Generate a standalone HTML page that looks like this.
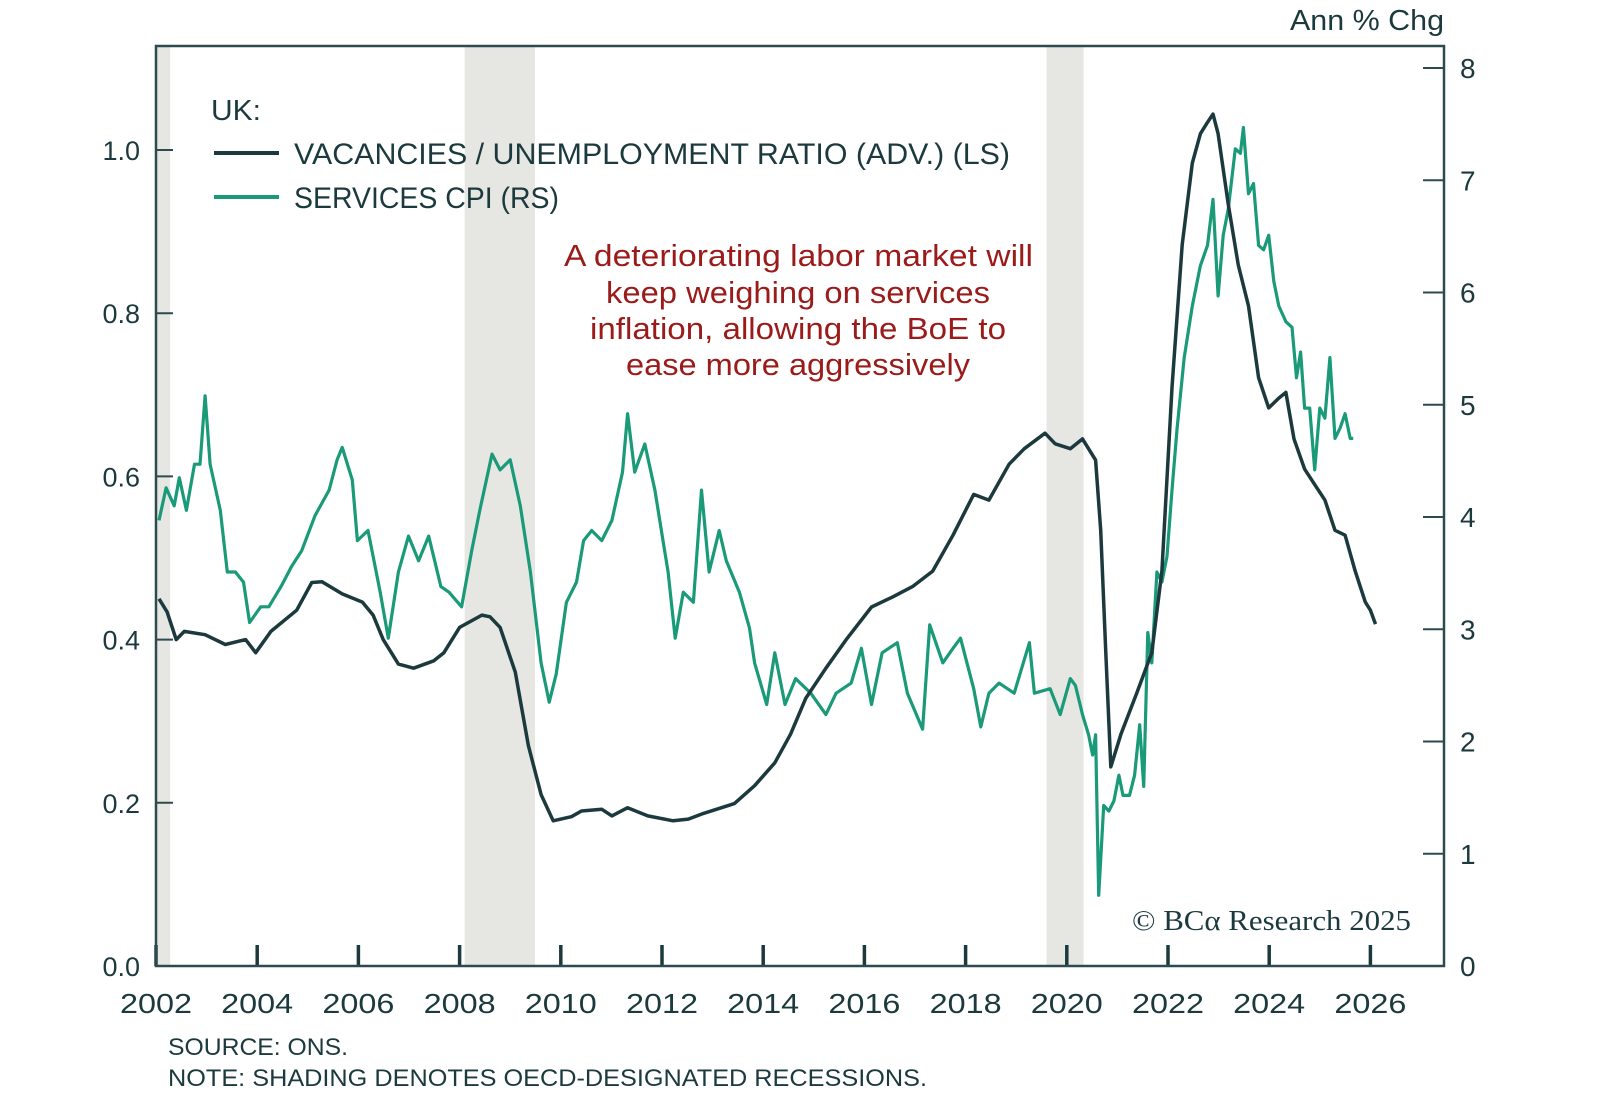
<!DOCTYPE html>
<html><head><meta charset="utf-8"><style>
html,body{margin:0;padding:0;background:#fff;}
svg{display:block;font-family:"Liberation Sans",sans-serif;}
</style></head><body>
<svg id="chart" width="1600" height="1107" viewBox="0 0 1600 1107" xmlns="http://www.w3.org/2000/svg">
<g id="shade"></g>
<g id="ticks"></g>
<rect x="156" y="46" width="1288" height="920" fill="none" stroke="#2d4a4f" stroke-width="2.5"/>
<g id="lines"></g>
<text x="211" y="120" font-size="29" fill="#1c3a3e" textLength="50" lengthAdjust="spacingAndGlyphs">UK:</text>
<line x1="214" y1="153" x2="279" y2="153" stroke="#1c3a3e" stroke-width="4"/>
<text x="294" y="164" font-size="30" fill="#1c3a3e" textLength="716" lengthAdjust="spacingAndGlyphs">VACANCIES / UNEMPLOYMENT RATIO (ADV.) (LS)</text>
<line x1="214" y1="197" x2="279" y2="197" stroke="#1a9a78" stroke-width="4"/>
<text x="294" y="208" font-size="30" fill="#1c3a3e" textLength="265" lengthAdjust="spacingAndGlyphs">SERVICES CPI (RS)</text>
<g font-size="31" fill="#9b1b1b">
<text x="564" y="266" textLength="469" lengthAdjust="spacingAndGlyphs">A deteriorating labor market will</text>
<text x="606" y="303" textLength="384" lengthAdjust="spacingAndGlyphs">keep weighing on services</text>
<text x="590" y="339" textLength="416" lengthAdjust="spacingAndGlyphs">inflation, allowing the BoE to</text>
<text x="626" y="375" textLength="344" lengthAdjust="spacingAndGlyphs">ease more aggressively</text>
</g>
<text x="1290" y="30" font-size="29" fill="#1c3a3e" textLength="154" lengthAdjust="spacingAndGlyphs">Ann % Chg</text>
<text x="1132" y="930" font-size="28" fill="#1c3a3e" font-family="Liberation Serif,serif" textLength="279" lengthAdjust="spacingAndGlyphs">© BCα Research 2025</text>
<text x="168" y="1055" font-size="24" fill="#1c3a3e" textLength="180" lengthAdjust="spacingAndGlyphs">SOURCE: ONS.</text>
<text x="168" y="1086" font-size="24" fill="#1c3a3e" textLength="759" lengthAdjust="spacingAndGlyphs">NOTE: SHADING DENOTES OECD-DESIGNATED RECESSIONS.</text>
</svg>
<script>
const vuYears=[2002.06,2002.22,2002.40,2002.56,2002.97,2003.37,2003.77,2003.97,2004.27,2004.78,2005.08,2005.28,2005.68,2006.08,2006.29,2006.49,2006.79,2007.09,2007.49,2007.69,2008.00,2008.44,2008.60,2008.80,2009.10,2009.36,2009.61,2009.85,2010.21,2010.41,2010.81,2011.01,2011.32,2011.72,2012.22,2012.52,2012.82,2013.43,2013.83,2014.23,2014.54,2014.84,2015.24,2015.64,2016.14,2016.55,2016.95,2017.35,2017.75,2018.16,2018.46,2018.86,2019.16,2019.57,2019.77,2020.07,2020.31,2020.57,2020.67,2020.77,2020.87,2021.07,2021.38,2021.68,2021.88,2022.08,2022.28,2022.48,2022.64,2022.78,2022.89,2022.99,2023.19,2023.39,2023.59,2023.79,2023.99,2024.19,2024.33,2024.49,2024.70,2024.90,2025.10,2025.30,2025.50,2025.70,2025.90,2026.00,2026.10];
const vuValues=[0.45,0.434,0.40,0.41,0.406,0.394,0.40,0.384,0.41,0.436,0.47,0.471,0.456,0.446,0.43,0.40,0.37,0.365,0.374,0.384,0.415,0.43,0.428,0.415,0.36,0.27,0.21,0.178,0.183,0.19,0.192,0.184,0.194,0.184,0.178,0.18,0.187,0.199,0.221,0.249,0.284,0.328,0.365,0.40,0.44,0.452,0.465,0.484,0.528,0.578,0.571,0.615,0.634,0.653,0.64,0.634,0.646,0.62,0.534,0.384,0.244,0.284,0.334,0.384,0.484,0.709,0.884,0.984,1.02,1.034,1.044,1.02,0.934,0.859,0.809,0.721,0.684,0.696,0.703,0.646,0.609,0.59,0.571,0.534,0.528,0.484,0.446,0.436,0.419];
const cpiYears=[2002.06,2002.20,2002.36,2002.46,2002.60,2002.76,2002.87,2002.97,2003.07,2003.27,2003.41,2003.57,2003.73,2003.85,2004.07,2004.23,2004.47,2004.68,2004.88,2005.14,2005.42,2005.58,2005.68,2005.88,2005.98,2006.19,2006.43,2006.59,2006.79,2006.99,2007.19,2007.39,2007.63,2007.79,2008.04,2008.24,2008.40,2008.64,2008.80,2009.00,2009.20,2009.40,2009.61,2009.77,2009.91,2010.11,2010.31,2010.45,2010.61,2010.81,2011.01,2011.22,2011.32,2011.46,2011.66,2011.86,2012.02,2012.12,2012.26,2012.42,2012.62,2012.78,2012.93,2013.13,2013.27,2013.53,2013.73,2013.83,2014.07,2014.23,2014.43,2014.64,2014.94,2015.24,2015.44,2015.74,2015.94,2016.14,2016.35,2016.65,2016.85,2017.15,2017.29,2017.55,2017.75,2017.90,2018.16,2018.30,2018.46,2018.66,2018.96,2019.26,2019.36,2019.67,2019.87,2020.07,2020.17,2020.31,2020.43,2020.51,2020.57,2020.63,2020.73,2020.83,2020.93,2021.03,2021.11,2021.24,2021.34,2021.44,2021.52,2021.60,2021.68,2021.78,2021.88,2021.98,2022.08,2022.18,2022.32,2022.48,2022.64,2022.78,2022.89,2022.99,2023.09,2023.19,2023.33,2023.43,2023.49,2023.59,2023.69,2023.79,2023.89,2023.99,2024.09,2024.19,2024.33,2024.45,2024.54,2024.62,2024.70,2024.80,2024.90,2025.00,2025.10,2025.20,2025.30,2025.40,2025.50,2025.60,2025.66];
const cpiValues=[3.97,4.26,4.1,4.35,4.06,4.47,4.47,5.08,4.47,4.06,3.51,3.51,3.42,3.06,3.2,3.2,3.38,3.56,3.7,4.01,4.24,4.51,4.62,4.33,3.79,3.88,3.33,2.92,3.51,3.83,3.61,3.83,3.38,3.33,3.2,3.7,4.06,4.56,4.42,4.51,4.1,3.51,2.7,2.35,2.6,3.24,3.42,3.79,3.88,3.79,3.97,4.4,4.92,4.4,4.65,4.24,3.79,3.51,2.92,3.33,3.24,4.24,3.51,3.88,3.61,3.33,3.01,2.7,2.33,2.79,2.33,2.56,2.43,2.24,2.43,2.52,2.83,2.33,2.79,2.88,2.43,2.11,3.04,2.7,2.83,2.92,2.47,2.13,2.43,2.52,2.43,2.88,2.43,2.47,2.24,2.56,2.5,2.24,2.06,1.88,2.06,0.63,1.43,1.38,1.47,1.7,1.52,1.52,1.7,2.15,1.6,2.97,2.7,3.51,3.42,3.65,4.24,4.79,5.42,5.88,6.24,6.42,6.83,5.97,6.51,6.74,7.28,7.24,7.47,6.88,6.97,6.42,6.38,6.51,6.1,5.88,5.74,5.69,5.24,5.47,4.97,4.97,4.42,4.97,4.88,5.42,4.7,4.79,4.92,4.7,4.7];
const recessionStarts=[2001.9,2008.1,2019.6];
const recessionEnds=[2002.28,2009.49,2020.33];
const yearTicks=[2002,2004,2006,2008,2010,2012,2014,2016,2018,2020,2022,2024,2026];
const leftTicks=[0,0.2,0.4,0.6,0.8,1.0];
const leftTickLabels=["0.0","0.2","0.4","0.6","0.8","1.0"];
const rightTicks=[0,1,2,3,4,5,6,7,8];

const NS="http://www.w3.org/2000/svg";
const X0=156,X1=1444,Y0=966,Y1=46;
const xs=y=>X0+(y-2002)*50.6;
const yl=v=>Y0-v*816;
const yr=v=>Y0-v*112.25;
function mk(tag,attrs,parent){const e=document.createElementNS(NS,tag);for(const k in attrs)e.setAttribute(k,attrs[k]);parent.appendChild(e);return e;}
const shade=document.getElementById('shade'),ticks=document.getElementById('ticks'),lines=document.getElementById('lines');
recessionStarts.forEach((s,i)=>{
  const a=Math.max(X0,xs(s)),b=xs(recessionEnds[i]);
  const r=mk('rect',{x:a,y:Y1,width:b-a,height:Y0-Y1,fill:'#e6e6e2'},shade);
  
  
});
yearTicks.forEach(y=>{
  const x=xs(y);
  const t=mk('line',{x1:x,y1:Y0,x2:x,y2:Y0-21,stroke:'#1c3a3e','stroke-width':3.5},ticks);
  
  
  const l=mk('text',{x:x,y:Y0+47,'font-size':28,fill:'#1c3a3e','text-anchor':'middle','textLength':72,'lengthAdjust':'spacingAndGlyphs'},ticks);
  l.textContent=String(y);
  
  
});
leftTicks.forEach((v,i)=>{
  const y=yl(v);
  const t=mk('line',{x1:X0,y1:y,x2:X0+17,y2:y,stroke:'#2d4a4f','stroke-width':2},ticks);
  
  
  const l=mk('text',{x:140,y:y+10,'font-size':27,fill:'#1c3a3e','text-anchor':'end'},ticks);
  l.textContent=leftTickLabels[i];
  
  
});
rightTicks.forEach(v=>{
  const y=yr(v);
  const t=mk('line',{x1:X1-21,y1:y,x2:X1,y2:y,stroke:'#2d4a4f','stroke-width':2},ticks);
  
  
  const l=mk('text',{x:1460,y:y+10,'font-size':28,fill:'#1c3a3e'},ticks);
  l.textContent=String(v);
  
  
});
function path(years,vals,fy){return years.map((y,i)=>(i?'L':'M')+xs(y).toFixed(1)+','+fy(vals[i]).toFixed(1)).join('');}
const cp=mk('path',{d:path(cpiYears,cpiValues,yr),fill:'none',stroke:'#1a9a78','stroke-width':3.2,'stroke-linejoin':'round'},lines);


const vp=mk('path',{d:path(vuYears,vuValues,yl),fill:'none',stroke:'#1c3a3e','stroke-width':3.5,'stroke-linejoin':'round'},lines);


</script>
</body></html>
